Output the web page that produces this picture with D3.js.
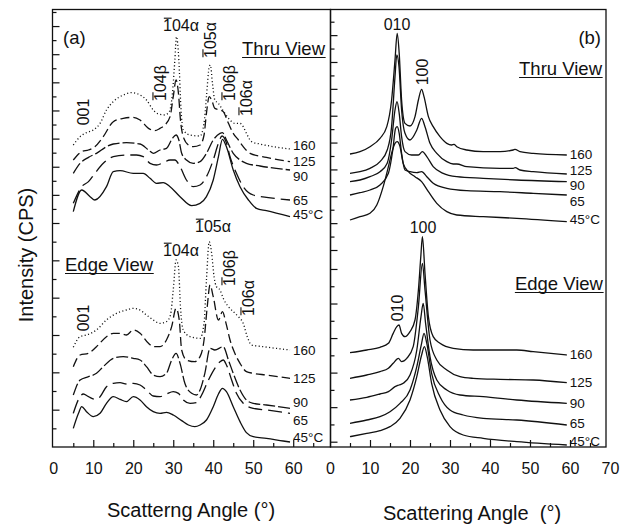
<!DOCTYPE html>
<html>
<head>
<meta charset="utf-8">
<script src="https://cdn.jsdelivr.net/npm/d3@7"></script>
<style>
  body { margin: 0; background: #fff; }
  svg { display: block; font-family: "Liberation Sans", Arial, Helvetica, sans-serif; }
</style>
</head>
<body>
<svg id="chart" width="620" height="524"></svg>
<script>
// ---------------- data: WAXD scans, intensity (arbitrary CPS, offset per temperature) vs 2θ ----------------
const temps = ["160", "125", "90", "65", "45°C"];
const angleLabelsA = [0, 10, 20, 30, 40, 50, 60];
const angleLabelsB = [0, 10, 20, 30, 40, 50, 60, 70];

// (a) Thru view
const thruA_160 = [[5.0,906],[6.7,931],[8.3,943],[10.0,951],[11.7,971],[13.3,1011],[15.0,1036],[17.5,1056],[19.6,1063],[21.7,1056],[23.3,1041],[25.0,1011],[26.3,999],[27.9,996],[29.0,1006],[29.8,1061],[30.4,1161],[30.8,1231],[31.4,1161],[31.9,1021],[32.5,951],[34.2,936],[36.7,933],[37.7,971],[38.3,1051],[39.0,1141],[39.3,1146],[39.8,1091],[40.4,1041],[41.3,1031],[42.1,1016],[42.9,1001],[44.2,981],[45.4,971],[46.7,971],[47.5,961],[48.3,941],[49.6,916],[51.7,909],[55.0,901],[59.2,894]];
const thruA_125 = [[5.0,861],[7.1,886],[8.8,891],[10.4,901],[12.5,931],[15.0,976],[17.5,986],[20.0,989],[21.7,981],[23.8,956],[25.4,949],[26.7,956],[27.9,966],[29.2,991],[30.0,1051],[30.7,1101],[31.3,1061],[31.8,981],[32.5,931],[33.8,906],[35.0,901],[36.7,906],[37.7,936],[38.3,1001],[39.0,1051],[39.6,1041],[40.4,1016],[41.7,1011],[42.5,1006],[43.8,971],[45.0,941],[46.3,921],[47.5,901],[49.2,881],[53.3,869],[59.2,856]];
const thruA_90 = [[5.0,821],[6.7,851],[8.8,869],[10.8,881],[13.3,901],[15.0,909],[18.3,913],[21.7,909],[23.8,891],[25.0,881],[26.7,891],[28.3,896],[29.8,926],[30.7,936],[31.4,921],[32.1,881],[33.3,861],[35.0,851],[36.7,856],[38.3,881],[40.0,921],[41.7,941],[42.3,943],[43.3,921],[45.0,881],[46.7,861],[48.3,851],[51.7,843],[59.2,831]];
const thruA_65 = [[5.0,731],[7.1,781],[8.8,796],[10.4,821],[12.5,851],[15.0,871],[18.3,876],[20.8,876],[22.5,871],[24.2,851],[25.8,846],[27.5,853],[29.2,861],[30.4,861],[31.7,841],[33.3,801],[35.0,781],[36.7,786],[38.3,811],[40.0,861],[41.3,911],[42.2,933],[43.2,916],[44.2,871],[45.8,821],[47.5,781],[50.0,756],[53.3,749],[59.2,741]];
const thruA_45 = [[5.0,706],[7.1,771],[9.2,751],[10.4,741],[13.3,781],[15.0,826],[16.7,829],[20.0,821],[22.5,821],[24.2,806],[25.8,791],[27.5,793],[29.2,781],[31.7,751],[34.6,724],[36.7,731],[38.3,751],[40.0,801],[41.3,871],[42.3,923],[43.3,901],[45.0,831],[46.7,781],[48.8,741],[50.8,716],[53.3,709],[59.2,691]];

// (a) Edge view
const edgeA_160 = [[5.0,299],[6.7,331],[8.3,336],[10.8,351],[13.3,381],[15.8,401],[18.3,411],[20.0,416],[21.7,411],[23.3,396],[25.0,381],[26.7,371],[28.3,376],[29.3,396],[30.0,471],[30.7,561],[31.3,541],[31.8,421],[32.5,351],[34.2,331],[36.7,326],[37.7,371],[38.3,501],[39.0,616],[39.6,581],[40.2,511],[40.8,481],[41.7,471],[42.5,446],[43.8,421],[45.0,406],[46.3,391],[47.5,371],[48.5,331],[49.6,306],[52.5,301],[59.2,291]];
const edgeA_125 = [[5.0,241],[6.7,276],[8.8,281],[10.8,301],[13.3,331],[15.0,341],[16.7,341],[18.3,336],[20.0,351],[21.7,341],[23.8,311],[25.0,301],[26.7,301],[28.3,321],[29.6,361],[30.7,416],[31.5,381],[32.1,291],[33.3,261],[35.4,256],[36.7,271],[37.7,321],[38.5,421],[39.2,486],[40.0,451],[41.3,381],[42.3,406],[43.2,371],[44.2,321],[45.4,281],[46.7,251],[48.3,226],[50.0,221],[53.3,216],[59.2,206]];
const edgeA_90 = [[5.0,156],[6.7,201],[8.8,211],[10.8,221],[12.5,241],[15.0,266],[17.5,271],[20.0,266],[21.7,261],[23.3,241],[25.0,216],[26.7,211],[28.3,221],[29.6,261],[30.7,281],[31.7,251],[32.9,191],[34.6,161],[35.8,156],[36.7,171],[37.9,221],[39.2,296],[40.4,291],[42.5,301],[43.8,261],[45.0,221],[46.7,171],[48.3,141],[50.0,131],[53.3,126],[59.2,116]];
const edgeA_65 = [[5.0,101],[6.7,151],[7.5,159],[8.8,151],[10.4,143],[11.7,151],[13.3,181],[15.0,191],[16.7,193],[18.3,189],[20.0,191],[21.7,186],[23.3,171],[25.0,153],[26.7,151],[28.3,159],[30.0,166],[31.3,161],[32.5,141],[34.2,131],[35.8,133],[37.1,156],[38.8,201],[40.4,236],[41.7,256],[42.5,261],[43.3,246],[44.6,201],[45.8,161],[47.5,131],[50.0,116],[53.3,111],[59.2,101]];
const edgeA_45 = [[5.0,56],[6.3,101],[7.1,121],[8.3,106],[10.0,91],[11.7,101],[13.3,131],[15.0,151],[16.7,143],[18.3,136],[20.0,151],[21.7,141],[23.3,121],[25.0,106],[26.7,101],[28.3,104],[30.0,96],[32.1,79],[33.8,66],[35.4,61],[36.7,66],[38.3,81],[40.0,121],[41.3,159],[42.3,176],[43.3,166],[45.0,121],[46.7,76],[48.3,43],[50.0,31],[53.3,26],[57.5,18],[59.2,15]];

// (b) Thru view
const thruB_160 = [[5.0,879],[7.5,886],[10.0,901],[12.5,926],[14.2,961],[15.4,1041],[16.25,1161],[16.8,1241],[17.3,1181],[17.9,1041],[18.75,971],[20.0,963],[21.25,991],[22.1,1041],[22.9,1073],[23.5,1051],[24.6,991],[25.8,961],[27.5,931],[29.2,911],[30.4,906],[31.0,908],[31.7,901],[34.2,891],[38.3,886],[42.5,886],[45.8,891],[46.25,893],[47.5,886],[50.8,881],[59.2,876]];
const thruB_125 = [[5.0,821],[7.5,826],[10.0,836],[12.5,856],[14.3,891],[15.4,961],[16.25,1111],[16.7,1176],[17.25,1141],[17.9,1011],[18.75,941],[20.0,921],[21.7,951],[22.9,986],[23.75,961],[25.0,911],[26.7,881],[29.2,856],[30.8,849],[31.7,849],[34.2,841],[42.5,836],[45.8,836],[46.3,838],[47.5,831],[50.8,826],[59.2,819]];
const thruB_90 = [[5.0,796],[7.5,801],[10.0,811],[12.5,826],[14.3,851],[15.4,921],[16.25,1011],[16.75,1036],[17.3,1001],[17.9,931],[18.75,886],[20.4,876],[22.1,876],[23.1,886],[24.2,871],[25.8,841],[28.3,821],[31.7,811],[38.3,806],[46.7,801],[59.2,796]];
const thruB_65 = [[5.0,756],[7.5,763],[10.0,771],[12.5,786],[14.6,821],[15.7,891],[16.4,956],[16.8,961],[17.3,941],[17.9,881],[18.75,831],[20.0,826],[21.7,823],[22.9,826],[24.2,811],[25.8,791],[29.2,776],[34.2,769],[42.5,766],[50.8,761],[59.2,756]];
const thruB_45 = [[5.0,681],[7.5,691],[10.0,701],[11.7,726],[13.3,781],[14.6,841],[15.4,881],[16.25,911],[16.8,916],[17.5,901],[18.3,851],[19.6,826],[21.25,811],[22.9,796],[24.6,766],[26.7,731],[29.2,706],[31.7,696],[38.3,691],[46.7,686],[59.2,676]];

// (b) Edge view
const edgeB_160 = [[5.0,283],[9.2,291],[12.5,299],[14.6,311],[15.8,341],[16.7,361],[17.25,366],[17.9,341],[18.75,331],[20.0,346],[21.25,381],[22.1,471],[22.7,571],[23.1,631],[23.75,521],[24.6,391],[25.8,331],[27.5,311],[30.8,296],[35.8,291],[42.5,291],[46.7,291],[50.8,286],[59.2,276]];
const edgeB_125 = [[5.0,206],[9.2,216],[12.5,226],[14.6,236],[15.8,251],[17.1,266],[17.9,256],[19.2,266],[20.8,301],[22.1,421],[23.1,551],[23.75,471],[25.0,321],[26.7,261],[29.2,231],[32.5,211],[35.8,206],[42.5,203],[50.8,201],[59.2,193]];
const edgeB_90 = [[5.0,141],[9.2,149],[12.5,159],[14.6,166],[16.25,181],[17.25,186],[18.3,191],[20.0,216],[21.7,291],[22.75,391],[23.3,431],[23.9,371],[25.0,271],[26.7,201],[29.2,171],[32.5,156],[38.3,151],[46.7,141],[59.2,131]];
const edgeB_65 = [[5.0,71],[9.2,81],[12.5,91],[15.0,106],[17.5,131],[20.0,171],[21.7,241],[22.9,311],[23.5,341],[24.2,311],[25.4,221],[27.5,151],[30.0,111],[33.3,96],[38.3,86],[46.7,81],[59.2,66]];
const edgeB_45 = [[5.0,31],[9.2,41],[12.5,49],[15.0,61],[17.5,86],[20.0,141],[21.7,211],[22.9,276],[23.6,301],[24.3,271],[25.4,191],[27.5,111],[30.0,61],[33.3,36],[38.3,26],[46.7,16],[59.2,6]];

// ---------------- layout ----------------
const svg = d3.select("#chart");
const frameTop = 9.5, frameBottom = 447;
const xA = d3.scaleLinear().domain([0, 69.2]).range([53.3, 330]);
const xB = d3.scaleLinear().domain([0, 69]).range([330, 606]);
const y = d3.scaleLinear().domain([0, 1314]).range([frameBottom, 9]);

const INK = "#111";
const tempDash = ["1.1 2.4", "9 4", "12 3", "14 6", null];   // (a) line styles, 160 → 45°C

// frames
svg.append("rect").attr("x", 52.5).attr("y", frameTop).attr("width", 330.5 - 52.5).attr("height", frameBottom - frameTop)
  .attr("fill", "none").attr("stroke", INK).attr("stroke-width", 1.3);
svg.append("rect").attr("x", 330.5).attr("y", frameTop).attr("width", 606 - 330.5).attr("height", frameBottom - frameTop)
  .attr("fill", "none").attr("stroke", INK).attr("stroke-width", 1.3);

// x axes: inward ticks, labels below
function xAxis(xs, labels) {
  const majors = [10, 20, 30, 40, 50, 60];
  const minors = [5, 15, 25, 35, 45, 55, 65];
  [[majors, 7], [minors, 4]].forEach(([vals, len]) => {
    svg.append("g").attr("transform", `translate(0,${frameBottom})`)
      .call(d3.axisTop(xs).tickValues(vals).tickSize(len).tickFormat(""))
      .call(g => g.select(".domain").remove())
      .call(g => g.selectAll("line").attr("stroke", INK).attr("stroke-width", 1.2));
  });
  svg.append("g").attr("transform", `translate(0,${frameBottom})`)
    .call(d3.axisBottom(xs).tickValues(labels).tickSize(0).tickPadding(15.5).tickFormat(d3.format("d")))
    .call(g => g.select(".domain").remove())
    .call(g => g.selectAll("text").attr("font-size", 16).attr("fill", INK)
      .attr("font-family", "'Liberation Sans', Arial, sans-serif"));
}
xAxis(xA, angleLabelsA);
xAxis(xB, angleLabelsB);

// y axes: unlabeled inward ticks, separate spacing for the two stacked scans
function yTicks(x0, scale, vals) {
  [[vals.filter(v => v % 2 === 0), 7], [vals.filter(v => v % 2 === 1), 4]].forEach(([vs, len]) => {
    svg.append("g").attr("transform", `translate(${x0},0)`)
      .call(d3.axisRight(scale).tickValues(vs).tickSize(len).tickFormat(""))
      .call(g => g.select(".domain").remove())
      .call(g => g.selectAll("line").attr("stroke", INK).attr("stroke-width", 1.2));
  });
}
yTicks(52.5, d3.scaleLinear().domain([0, 15]).range([223, 12]), d3.range(0, 16));
yTicks(52.5, d3.scaleLinear().domain([0, 12]).range([frameBottom, 223]), d3.range(1, 12));
yTicks(330.5, d3.scaleLinear().domain([0, 17]).range([250, 21.7]), d3.range(0, 18));
yTicks(330.5, d3.scaleLinear().domain([0, 11]).range([441.7, 251.7]), d3.range(0, 11));

// curves
function drawSet(xs, series, dashes, nudges) {
  const line = d3.line().x(d => xs(d[0])).y(d => y(d[1])).curve(d3.curveMonotoneX);
  series.forEach((s, i) => {
    svg.append("path").attr("d", line(s)).attr("fill", "none").attr("stroke", INK)
      .attr("stroke-width", 1.3).attr("stroke-linejoin", "round")
      .attr("stroke-dasharray", dashes ? dashes[i] : null);
    const last = s[s.length - 1];
    svg.append("text").attr("x", xs(last[0]) + 3).attr("y", y(last[1]) + nudges[i])
      .attr("dy", "0.35em").attr("font-size", 13.5).attr("fill", INK).text(temps[i]);
  });
}
drawSet(xA, [thruA_160, thruA_125, thruA_90, thruA_65, thruA_45], tempDash, [-4, 0, 6, 0, -2]);
drawSet(xA, [edgeA_160, edgeA_125, edgeA_90, edgeA_65, edgeA_45], tempDash, [0, 0, -6, 7, -5]);
drawSet(xB, [thruB_160, thruB_125, thruB_90, thruB_65, thruB_45], null, [-1, -4, 4, 6, -2]);
drawSet(xB, [edgeB_160, edgeB_125, edgeB_90, edgeB_65, edgeB_45], null, [-1, 0, 0, -2, -4]);

// reflection labels (Miller indices, first digit barred where negative)
function reflection(label, cx, cy, rotated, barred) {
  const g = svg.append("g").attr("transform", rotated ? `translate(${cx},${cy}) rotate(-90)` : `translate(${cx},${cy})`);
  const t = g.append("text").attr("text-anchor", "middle").attr("font-size", 16).attr("fill", INK)
    .attr("dy", rotated ? "0.36em" : 0).text(label);
  if (barred) {
    const e = t.node().getExtentOfChar(0);
    g.append("line").attr("x1", e.x + 0.8).attr("x2", e.x + e.width - 0.3)
      .attr("y1", e.y + 1.2).attr("y2", e.y + 1.2).attr("stroke", INK).attr("stroke-width", 1.1);
  }
}
// (a) Thru
reflection("001", 83, 112, true, false);
reflection("104β", 160, 83, true, true);
reflection("104α", 181, 31, false, true);
reflection("105α", 210, 40, true, true);
reflection("106β", 229, 83, true, true);
reflection("106α", 246, 98, true, true);
// (a) Edge
reflection("001", 83, 318, true, false);
reflection("104α", 181, 256, false, true);
reflection("105α", 213, 232, false, true);
reflection("106β", 229, 268, true, true);
reflection("106α", 248, 298, true, true);
// (b)
reflection("010", 397, 30, false, false);
reflection("100", 422, 72, true, false);
reflection("100", 423, 233, false, false);
reflection("010", 397, 308, true, false);

// underlined view titles
function viewTitle(text, x, yb, anchor) {
  const t = svg.append("text").attr("x", x).attr("y", yb).attr("text-anchor", anchor)
    .attr("font-size", 18.5).attr("fill", INK).text(text);
  const b = t.node().getBBox();
  svg.append("line").attr("x1", b.x).attr("x2", b.x + b.width).attr("y1", yb + 2.5).attr("y2", yb + 2.5)
    .attr("stroke", INK).attr("stroke-width", 1.2);
}
viewTitle("Thru View", 325, 55, "end");
viewTitle("Edge View", 65, 271, "start");
viewTitle("Thru View", 602, 75, "end");
viewTitle("Edge View", 603, 290, "end");

// panel letters
svg.append("text").attr("x", 63).attr("y", 44).attr("font-size", 18.5).attr("fill", INK).text("(a)");
svg.append("text").attr("x", 601).attr("y", 44).attr("text-anchor", "end").attr("font-size", 18.5).attr("fill", INK).text("(b)");

// axis titles
svg.append("text").attr("transform", "translate(33,255) rotate(-90)").attr("text-anchor", "middle")
  .attr("font-size", 20).attr("fill", INK).text("Intensity (CPS)");
svg.append("text").attr("x", 191).attr("y", 517).attr("text-anchor", "middle").attr("font-size", 20)
  .attr("fill", INK).style("white-space", "pre").text("Scatterng Angle (°)");
svg.append("text").attr("x", 472).attr("y", 520).attr("text-anchor", "middle").attr("font-size", 20)
  .attr("fill", INK).style("white-space", "pre").text("Scattering Angle  (°)");
</script>
</body>
</html>
